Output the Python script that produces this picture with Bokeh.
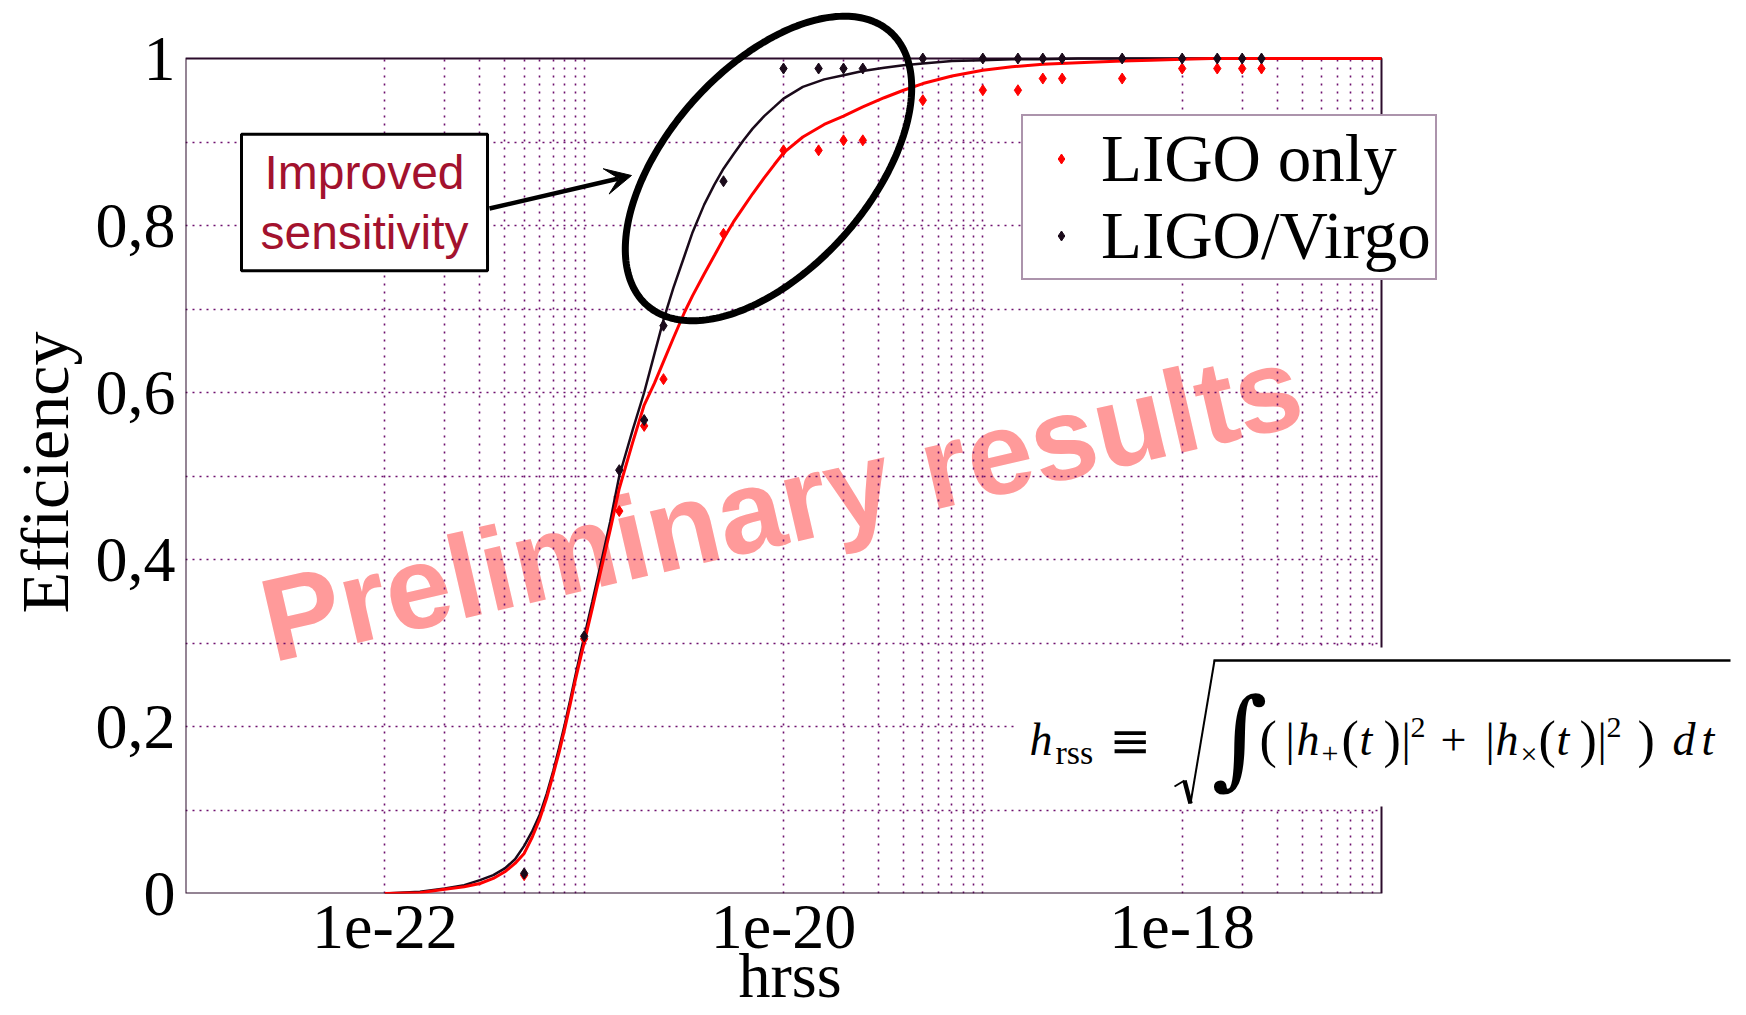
import math
import numpy as np
from bokeh.plotting import figure
from bokeh.models import (Range1d, FixedTicker, CustomJSTickFormatter, Label, Arrow, VeeHead,
                          PolyAnnotation, BoxAnnotation, Legend, LegendItem)
from bokeh.embed import file_html
from bokeh.resources import INLINE

# ---------------- data ----------------
curve_hrss = [1e-22, 1.5e-22, 2e-22, 2.5e-22, 3e-22, 3.5e-22, 4e-22, 4.5e-22, 5e-22, 5.5e-22,
              6e-22, 6.5e-22, 7e-22, 7.5e-22, 8e-22, 8.5e-22, 9e-22, 9.5e-22, 1e-21, 1.1e-21,
              1.2e-21, 1.35e-21, 1.5e-21, 1.75e-21, 2e-21, 2.25e-21, 2.5e-21, 2.8e-21, 3.2e-21, 3.5e-21,
              4e-21, 4.5e-21, 5e-21, 5.6e-21, 6.3e-21, 7e-21, 8e-21, 9e-21, 1e-20, 1.25e-20,
              1.6e-20, 2e-20, 2.5e-20, 3.2e-20, 4e-20, 5e-20, 7e-20, 1e-19, 1.4e-19, 2e-19,
              3e-19, 5e-19, 7e-19, 1e-18, 1.4e-18, 2e-18, 5e-18, 1e-17]
curve_ligo_virgo = [0.0, 0.002, 0.006, 0.010, 0.016, 0.022, 0.030, 0.041, 0.057, 0.075,
                    0.095, 0.120, 0.147, 0.175, 0.203, 0.231, 0.259, 0.284, 0.307, 0.350,
                    0.390, 0.445, 0.500, 0.555, 0.600, 0.646, 0.687, 0.725, 0.765, 0.792,
                    0.825, 0.849, 0.868, 0.885, 0.902, 0.916, 0.931, 0.942, 0.952, 0.966,
                    0.975, 0.980, 0.985, 0.989, 0.992, 0.994, 0.997, 0.998, 0.999, 0.999,
                    1.0, 1.0, 1.0, 1.0, 1.0, 1.0, 1.0, 1.0]
curve_ligo = [0.0, 0.001, 0.005, 0.008, 0.012, 0.018, 0.026, 0.036, 0.048, 0.068,
              0.090, 0.115, 0.143, 0.170, 0.198, 0.226, 0.254, 0.278, 0.300, 0.342,
              0.382, 0.435, 0.485, 0.540, 0.585, 0.611, 0.637, 0.665, 0.697, 0.716,
              0.742, 0.764, 0.784, 0.804, 0.822, 0.838, 0.857, 0.873, 0.887, 0.906,
              0.921, 0.931, 0.942, 0.953, 0.962, 0.970, 0.979, 0.986, 0.990, 0.993,
              0.995, 0.997, 0.998, 0.999, 1.0, 1.0, 1.0, 1.0]

point_hrss = [5e-22, 1e-21, 1.5e-21, 2e-21, 2.5e-21, 5e-21, 1e-20, 1.5e-20, 2e-20, 2.5e-20,
              5e-20, 1e-19, 1.5e-19, 2e-19, 2.5e-19, 5e-19, 1e-18, 1.5e-18, 2e-18, 2.5e-18]
point_ligo = [0.022, 0.305, 0.458, 0.560, 0.616, 0.790, 0.890, 0.890, 0.902, 0.902,
              0.950, 0.962, 0.962, 0.976, 0.976, 0.976, 0.988, 0.988, 0.988, 0.988]
point_ligo_virgo = [0.024, 0.308, 0.507, 0.567, 0.680, 0.853, 0.988, 0.988, 0.988, 0.988,
                    1.0, 1.0, 1.0, 1.0, 1.0, 1.0, 1.0, 1.0, 1.0, 1.0]

series_names = ["LIGO only", "LIGO/Virgo"]
x_tick_values = [1e-22, 1e-20, 1e-18]
y_tick_values = [0, 0.2, 0.4, 0.6, 0.8, 1.0]
y_grid_values = [0.1, 0.2, 0.3, 0.4, 0.5, 0.6, 0.7, 0.8, 0.9]
x_grid_values = [k * 10.0 ** n for n in (-22, -20, -18) for k in range(1, 11) if not (n == -18 and k == 10)]

# ---------------- layout ----------------
W, H = 1746, 1015
FL, FT, FR, FB = 185, 58, 1381, 893          # box of the chart (canvas pixels)
XMIN, XMAX = 1e-23, 1e-17
LO, HI = math.log10(XMIN), math.log10(XMAX)
PX_PER_DEC = (FR - FL) / (HI - LO)
PX_PER_UNIT = FB - FT

def dx(X):
    return 10 ** (LO + (X - FL) / PX_PER_DEC)

def dy(Y):
    return (FB - Y) / PX_PER_UNIT

NB = "\u00a0"
# the drawing area reaches the top and right edges so that notes may overlap the chart box
p = figure(width=W, height=H, x_axis_type="log",
           x_range=Range1d(XMIN, dx(W)), y_range=Range1d(0, dy(0)),
           output_backend="svg", toolbar_location=None, title=None,
           min_border_left=FL, min_border_right=0, min_border_top=0, min_border_bottom=H - FB)
p.background_fill_color = "white"
p.border_fill_color = "white"
p.outline_line_color = None

p.xaxis.ticker = FixedTicker(ticks=x_tick_values, minor_ticks=[])
p.xaxis.formatter = CustomJSTickFormatter(code="return tick.toExponential().replace('+','');")
p.yaxis.ticker = FixedTicker(ticks=y_tick_values, minor_ticks=[])
p.yaxis.formatter = CustomJSTickFormatter(
    code="return (tick == 0 || tick == 1) ? tick.toFixed(0) : tick.toFixed(1).replace('.', ',');")
p.xaxis.bounds = (XMIN, XMAX)
p.yaxis.bounds = (0, 1)
for ax in (p.xaxis[0], p.yaxis[0]):
    ax.axis_line_color = None
    ax.major_tick_line_color = None
    ax.minor_tick_line_color = None
    ax.major_tick_out = 0
    ax.major_tick_in = 0
    ax.major_label_text_font = "Liberation Serif"
    ax.major_label_text_font_size = "64px"
    ax.major_label_text_color = "black"
    ax.axis_label_text_font = "Liberation Serif"
    ax.axis_label_text_font_style = "normal"
    ax.axis_label_text_color = "black"
p.yaxis.major_label_standoff = 10
p.yaxis.axis_label = "Efficiency" + NB * 3
p.yaxis.axis_label_text_font_size = "68px"
p.yaxis.axis_label_standoff = 10
p.xaxis.major_label_standoff = 12
p.xaxis.axis_label = "hrss" + NB * 22
p.xaxis.axis_label_text_font_size = "64px"
p.xaxis.axis_label_standoff = -11

p.xgrid.ticker = FixedTicker(ticks=x_grid_values)
p.ygrid.ticker = FixedTicker(ticks=y_grid_values)
for g, dash in ((p.xgrid, "2 6"), (p.ygrid, "2 5")):
    g.grid_line_color = "#6e106e"
    g.grid_line_dash = dash
    g.grid_line_width = 1.6

# hide grid beyond the chart box, then draw the box
p.add_layout(BoxAnnotation(bottom=1, top=dy(-60), fill_color="white", fill_alpha=1, line_color=None,
                           level="underlay"))
p.add_layout(BoxAnnotation(left=XMAX, top=dy(-60), fill_color="white", fill_alpha=1, line_color=None,
                           level="underlay"))
p.add_layout(BoxAnnotation(left=XMIN, right=XMAX, bottom=0, top=1, fill_alpha=0,
                           line_color="#2b0b2b", line_alpha=1, line_width=2, level="underlay"))

# watermark (beneath the grid)
p.add_layout(Label(x=dx(263), y=dy(622), text="Preliminary results", angle=math.radians(13),
                   text_font="Liberation Sans", text_font_style="bold", text_font_size="118px",
                   text_color="#ff9a9a", text_align="left", text_baseline="middle", level="image"))

# curves and points
p.line(curve_hrss, curve_ligo_virgo, line_color="#1a0a1a", line_width=2.5)
p.line(curve_hrss, curve_ligo, line_color="#ff0000", line_width=3)
r_red = p.scatter(point_hrss, point_ligo, marker="diamond", size=11, color="#ff0000")
r_blk = p.scatter(point_hrss, point_ligo_virgo, marker="diamond", size=11, color="#1a0a1a")

legend = Legend(items=[LegendItem(label=series_names[0], renderers=[r_red]),
                       LegendItem(label=series_names[1], renderers=[r_blk])],
                location=(1021 - FL, FB - 280), label_text_font="Liberation Serif",
                label_text_font_size="67px", label_text_color="black",
                glyph_width=68, glyph_height=25, label_standoff=6, padding=4, spacing=0, margin=0,
                border_line_color="#5a2a5a", border_line_width=2, background_fill_color="white",
                background_fill_alpha=1)
p.add_layout(legend)

# ellipse
t = np.linspace(0, 2 * np.pi, 240)
ecx, ecy, ea, eb, eth = 768.0, 168.0, 183.0, 101.0, math.radians(48.3)
ex = ecx + ea * np.cos(t) * math.cos(eth) - eb * np.sin(t) * math.sin(eth)
ey = ecy - (ea * np.cos(t) * math.sin(eth) + eb * np.sin(t) * math.cos(eth))
p.add_layout(PolyAnnotation(xs=[dx(v) for v in ex], ys=[dy(v) for v in ey], fill_color=None,
                            fill_alpha=0, line_color="black", line_alpha=1, line_width=7))

# arrow + boxed note
p.add_layout(Arrow(x_start=dx(489), y_start=dy(208), x_end=dx(631), y_end=dy(175),
                   line_color="black", line_width=4.5,
                   end=VeeHead(size=26, fill_color="black", line_color="black", line_width=1)))
p.add_layout(Label(x=dx(364), y=dy(202), text="Improved\nsensitivity", text_align="center",
                   text_baseline="middle", text_font="Liberation Sans", text_font_size="48px",
                   text_color="#a3122e", text_line_height=1.12, background_fill_color="white",
                   border_line_color="black", border_line_width=3, padding=dict(x=19, y=12)))

# formula panel
p.add_layout(BoxAnnotation(left=dx(1014), right=dx(W), bottom=dy(806), top=dy(647),
                           fill_color="white", fill_alpha=1, line_color=None))
MID = 0.3375   # baseline sits this many ems below the middle of a Liberation Serif line
formula_parts = [
    ("h", 1029, 755, 46, "italic"), ("rss", 1055, 763, 34, "normal"),
    ("(", 1259, 757, 52, "normal"), ("|", 1285, 755, 46, "normal"), ("h", 1296, 755, 46, "italic"),
    ("+", 1321, 763, 30, "normal"), ("(", 1341, 757, 52, "normal"), ("t", 1359, 755, 46, "italic"),
    (")", 1383, 757, 52, "normal"), ("|", 1401, 755, 46, "normal"), ("2", 1410, 737, 30, "normal"),
    ("+", 1440, 755, 46, "normal"), ("|", 1485, 755, 46, "normal"), ("h", 1495, 755, 46, "italic"),
    ("\u00d7", 1520, 763, 30, "normal"), ("(", 1538, 757, 52, "normal"), ("t", 1556, 755, 46, "italic"),
    (")", 1579, 757, 52, "normal"), ("|", 1597, 755, 46, "normal"), ("2", 1606, 737, 30, "normal"),
    (")", 1637, 757, 52, "normal"), ("d", 1672, 755, 46, "italic"), ("t", 1701, 755, 46, "italic"),
]
for txt, X, Y, size, style in formula_parts:
    p.add_layout(Label(x=dx(X), y=dy(Y - MID * size), text=txt, text_align="left", text_baseline="middle",
                       text_font="Liberation Serif", text_font_style=style, text_font_size=f"{size}px",
                       text_color="black"))
p.add_layout(Label(x=dx(1130), y=dy(740), text="\u2261", text_align="center", text_baseline="middle",
                   text_font="DejaVu Serif", text_font_size="50px", text_color="black"))
p.add_layout(Label(x=dx(1239), y=dy(737), text="\u222b", text_align="center", text_baseline="middle",
                   text_font="DejaVu Serif", text_font_size="108px", text_color="black"))
radical = [((1174, 786), (1184, 780), 2), ((1184, 780), (1190, 803), 4.5),
           ((1190, 803), (1214, 660), 2), ((1213, 660), (1730, 660), 2.5)]
for (X0, Y0), (X1, Y1), lw in radical:
    p.add_layout(Arrow(x_start=dx(X0), y_start=dy(Y0), x_end=dx(X1), y_end=dy(Y1), end=None,
                       line_color="black", line_width=lw))

open("out.html", "w").write(file_html(p, INLINE))
